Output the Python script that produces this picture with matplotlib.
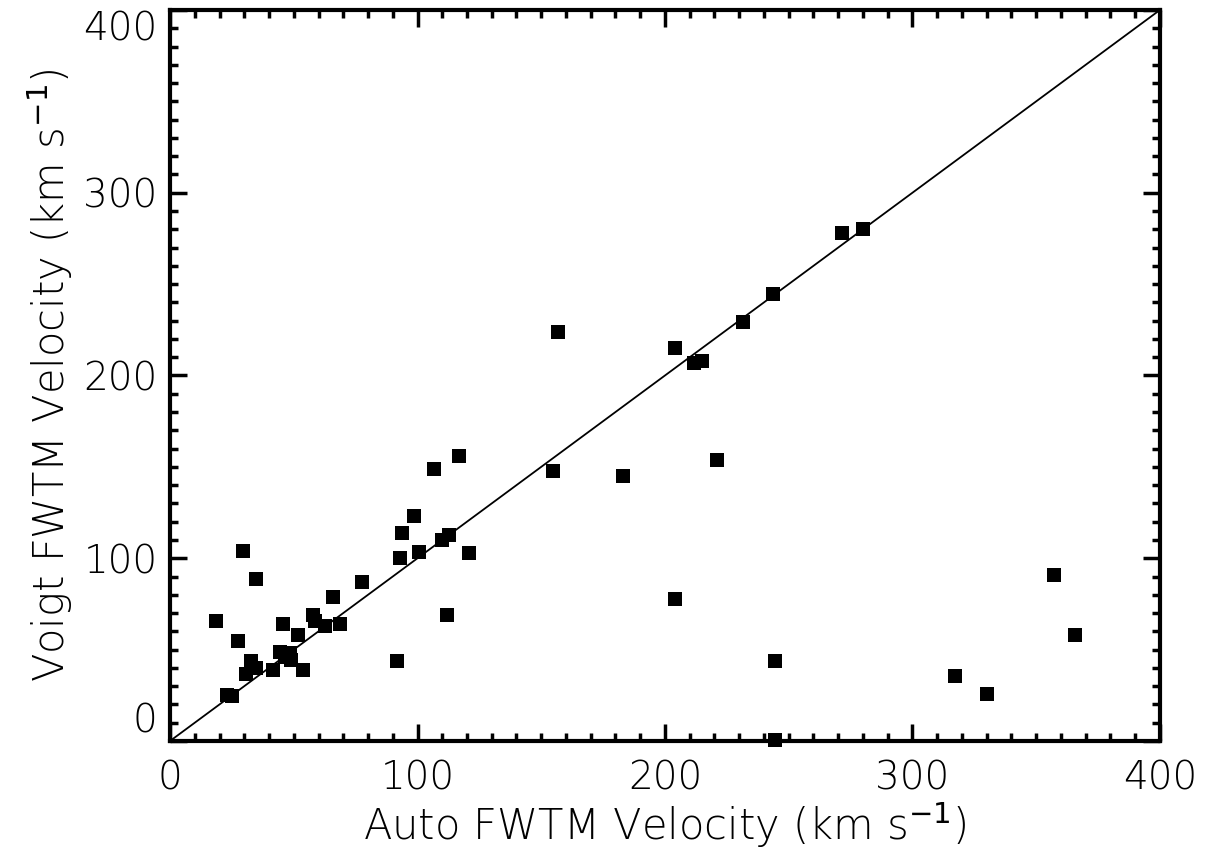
import matplotlib

matplotlib.use("Agg")
import matplotlib.pyplot as plt
from matplotlib.ticker import MultipleLocator

# Auto vs Voigt FWTM velocities (km/s)
auto_fwtm = [18.6, 23.0, 25.1, 27.5, 29.5, 30.7, 32.7, 34.7, 34.7, 41.6,
             44.4, 45.7, 48.5, 48.9, 46.5, 51.7, 53.7, 57.8, 58.6, 62.6,
             65.9, 68.7, 77.6, 91.7, 92.9, 93.7, 98.6, 100.6, 106.7, 109.9,
             111.9, 112.7, 116.8, 120.8, 154.7, 156.8, 183.0, 204.0, 204.0, 211.7,
             215.0, 221.0, 231.5, 243.6, 244.4, 244.4, 271.5, 280.0, 317.2, 330.1,
             357.2, 365.7]
voigt_fwtm = [65.7, 25.2, 24.6, 54.7, 104.0, 36.7, 43.8, 39.9, 88.6, 38.9,
              48.7, 64.0, 48.2, 44.3, 46.0, 58.0, 38.9, 68.9, 65.7, 62.9,
              78.8, 64.0, 87.0, 43.8, 100.1, 113.8, 123.1, 103.4, 148.8, 110.0,
              68.9, 112.7, 155.9, 102.9, 147.7, 223.8, 145.0, 77.7, 215.0, 206.8,
              207.9, 153.8, 229.3, 244.6, 43.8, 0.5, 278.0, 280.2, 35.6, 25.7,
              90.8, 58.0]

axis_range = [0, 400]
major_ticks = [0, 100, 200, 300, 400]

plt.rcParams["font.family"] = ["DejaVu Sans"]

fig = plt.figure(figsize=(12.12, 8.63), dpi=100)
ax = fig.add_axes([0.1403, 0.1414, 0.8167, 0.8470])

ax.plot(axis_range, axis_range, color="black", lw=1.3)
ax.plot(auto_fwtm, voigt_fwtm, ls="none", marker="s", ms=9.5, color="black",
        markeredgewidth=0, clip_on=False)

ax.set_xlim(axis_range)
ax.set_ylim(axis_range)
ax.set_xticks(major_ticks)
ax.set_yticks(major_ticks)
ax.xaxis.set_minor_locator(MultipleLocator(10))
ax.yaxis.set_minor_locator(MultipleLocator(10))

for side in ax.spines.values():
    side.set_linewidth(3)
ax.tick_params(which="both", direction="in", top=True, right=True, width=2.5)
ax.tick_params(which="major", length=12)
ax.tick_params(which="minor", length=6)
ax.tick_params(axis="x", which="major", pad=13, labelsize=28)
ax.tick_params(axis="y", which="major", pad=9, labelsize=28)

for lbl in ax.get_xticklabels() + ax.get_yticklabels():
    lbl.set_fontweight("light")
ylabels = ax.get_yticklabels()
ylabels[0].set_va("bottom")
ylabels[-1].set_va("top")

ax.set_xlabel("Auto FWTM Velocity (km s$^{-1}$)", fontsize=30, fontweight="light", labelpad=2)
ax.set_ylabel("Voigt FWTM Velocity (km s$^{-1}$)", fontsize=30, fontweight="light", labelpad=6)

fig.savefig("out.png", dpi=100)
